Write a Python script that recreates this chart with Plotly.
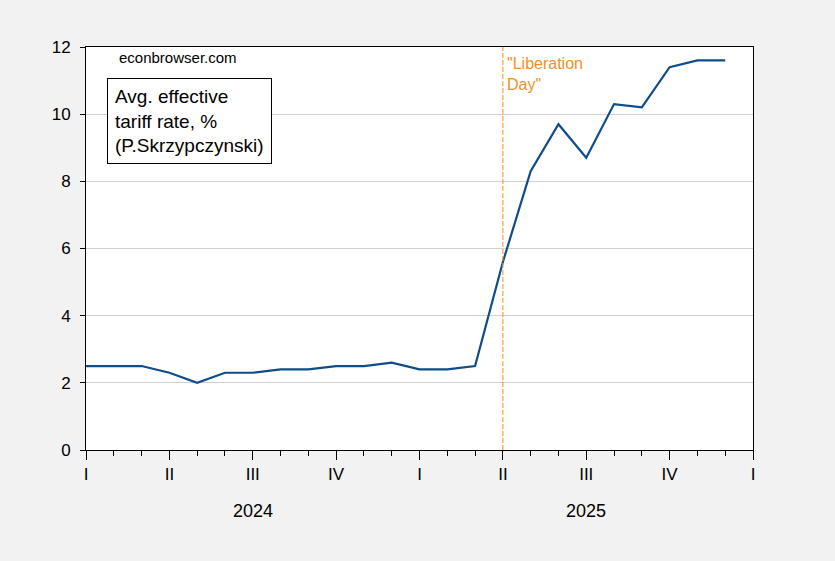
import plotly.graph_objects as go

months = list(range(24))  # 0 = Jan 2024 ... 23 = Dec 2025
tariff = [2.5, 2.5, 2.5, 2.3, 2.0, 2.3, 2.3, 2.4, 2.4, 2.5, 2.5, 2.6,
          2.4, 2.4, 2.5, 5.6, 8.3, 9.7, 8.7, 10.3, 10.2, 11.4, 11.6, 11.6]
quarter_pos = [0, 3, 6, 9, 12, 15, 18, 21, 24]
quarter_labels = ["I", "II", "III", "IV", "I", "II", "III", "IV", "I"]
year_labels = ["2024", "2025"]
year_pos = [6, 18]
event_pos = 15
event_label = '"Liberation<br>Day"'

font = "Arial, Liberation Sans, sans-serif"
orange = "#F2901E"

fig = go.Figure()
fig.add_trace(go.Scatter(x=months, y=tariff, mode="lines",
                         line=dict(color="#0E4C8A", width=2.2),
                         showlegend=False, hoverinfo="skip"))

fig.add_shape(type="line", x0=event_pos, x1=event_pos, y0=0, y1=1,
              xref="x", yref="paper",
              line=dict(color=orange, width=1, dash="5px,2px"))

annotations = [
    dict(x=event_pos, y=12, xref="x", yref="y", text=event_label,
         showarrow=False, xanchor="left", yanchor="top", xshift=2, yshift=-6,
         align="left", font=dict(family=font, size=16, color=orange)),
    dict(x=0.046, y=1.0, xref="paper", yref="paper", text="econbrowser.com",
         showarrow=False, xanchor="left", yanchor="top", yshift=0,
         font=dict(family=font, size=15, color="black")),
    dict(x=0.0315, y=0.923, xref="paper", yref="paper",
         text="Avg. effective<br>tariff rate, %<br>(P.Skrzypczynski)",
         showarrow=False, xanchor="left", yanchor="top", align="left",
         bordercolor="black", borderwidth=1, borderpad=7, bgcolor="white",
         font=dict(family=font, size=19, color="black")),
]
for yl, yp in zip(year_labels, year_pos):
    annotations.append(dict(x=yp, y=-0.151, xref="x", yref="paper", text=yl,
                            showarrow=False, xanchor="center", yanchor="middle",
                            font=dict(family=font, size=18, color="black")))

fig.update_layout(
    width=835, height=561,
    margin=dict(l=86, r=82, t=47, b=111),
    paper_bgcolor="#F2F2F2", plot_bgcolor="white",
    annotations=annotations,
    xaxis=dict(range=[0, 24], tickvals=quarter_pos, ticktext=quarter_labels,
               ticks="outside", ticklen=9, tickcolor="black",
               showgrid=False, zeroline=False,
               showline=True, linecolor="black", linewidth=1, mirror=True,
               tickfont=dict(family=font, size=17, color="black"),
               minor=dict(dtick=1, tick0=0, ticks="outside", ticklen=5,
                          tickcolor="black", showgrid=False)),
    yaxis=dict(range=[0, 12], dtick=2, ticks="outside", ticklen=5,
               tickcolor="black", showgrid=True, gridcolor="#D0D0D0",
               zeroline=False, showline=True, linecolor="black", linewidth=1,
               mirror=True, ticklabelstandoff=6,
               tickfont=dict(family=font, size=17, color="black")),
)

fig.write_html("out.html",
               config={"displayModeBar": False},
               post_script="document.body.style.margin='0px';"
                           "document.body.style.background='#F2F2F2';")
